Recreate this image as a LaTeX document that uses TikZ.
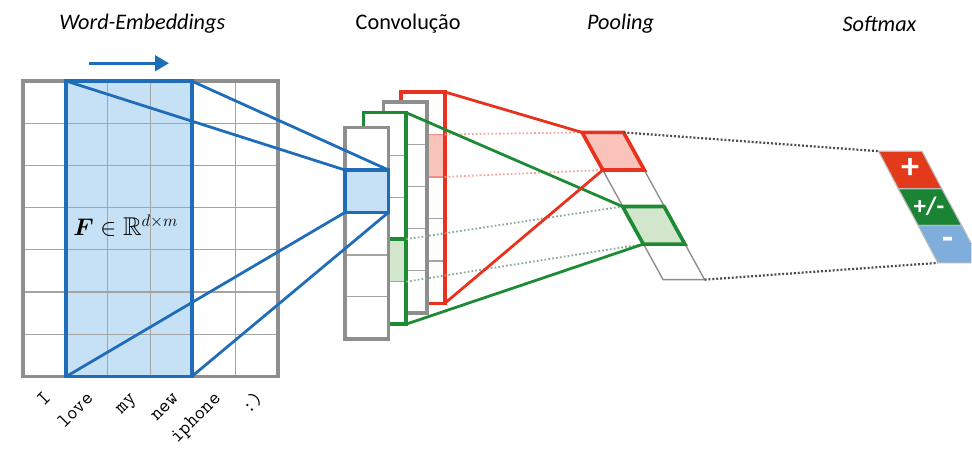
\documentclass[tikz,border=0pt]{standalone}
\usepackage{amssymb}
\usepackage{fontspec}
\newfontfamily\calibri{Carlito}
\usetikzlibrary{arrows.meta,decorations.text}

\definecolor{embblue}{HTML}{1F6DB8}
\definecolor{embfill}{HTML}{C6E0F5}
\definecolor{gridgray}{HTML}{8E8E8E}
\definecolor{mapred}{HTML}{E8321E}
\definecolor{redfill}{HTML}{F9C3BA}
\definecolor{mapgreen}{HTML}{1D8A34}
\definecolor{greenfill}{HTML}{D2E6CB}
\definecolor{smred}{HTML}{E43A1C}
\definecolor{smgreen}{HTML}{1A8434}
\definecolor{smblue}{HTML}{7FAEDC}

\newcommand\wordfont{\fontsize{14.5}{16}\selectfont\ttfamily}

\tikzset{
    title/.style={font=\calibri\fontsize{16}{19}\selectfont\itshape},
    word/.style={decorate, decoration={text along path, text align=right, text={|\wordfont|#1}}},
    frame/.style={line width=2.6pt},
    cell/.style={gridgray!80, line width=0.9pt},
    link/.style={line width=2pt},
    faint/.style={line width=1.3pt, dash pattern=on 1.2pt off 1.6pt},
    dots/.style={black!70, line width=1.6pt, dash pattern=on 1.4pt off 1.4pt},
    sign/.style={text=white}
}

\begin{document}
\begin{tikzpicture}
    \path (0,0) rectangle (24.3,-11.425);

    % the sentence, one word per column, written up along a diagonal
    \path[word={I}] (-0.275,-11.4) -- (1.025,-10.1);
    \path[word={love}] (0.8,-11.4) -- (2.1,-10.1);
    \path[word={my}] (1.875,-11.4) -- (3.175,-10.1);
    \path[word={new}] (2.95,-11.4) -- (4.25,-10.1);
    \path[word={iphone}] (4.025,-11.4) -- (5.325,-10.1);
    \path[word={:)}] (5.1,-11.4) -- (6.4,-10.1);

  \begin{scope}[x=0.025cm, y=-0.025cm]
    \node[title] (tEmb) at (133,24) {Word-Embeddings};
    \node[font=\calibri\fontsize{16}{19}\selectfont] (tConv) at (402,24) {Convolução};
    \node[title] (tPool) at (617,24) {Pooling};
    \node[title] (tSoft) at (879,24) {Softmax};

    % embedding matrix with the filter window
    \fill[embfill] (56,82) rectangle (183,381);
    \foreach \i in {1,...,5} \draw[cell] (12+43*\i,82) -- (12+43*\i,381);
    \foreach \i in {1,...,6} \draw[cell] (12,82+42.71*\i) -- (270,82+42.71*\i);
    \draw[gridgray, frame] (12,82) rectangle (270,381);
    \draw[embblue, frame] (56,82) rectangle (183,381);
    \node[font=\fontsize{18.5}{21}\selectfont, anchor=base west, inner sep=0pt] (fLabel) at (63,238) {$\mbox{\boldmath$F$} \in \mathbb{R}^{d\times m}$};

    \coordinate (aL) at (79,64);
    \coordinate (aR) at (160,64);
    \draw[embblue, line width=2.4pt, -{Triangle[length=10pt, width=11pt]}] (aL) -- (aR);

    % feature maps, back to front
    \fill[white] (395,93) rectangle (439,307);
    \fill[redfill] (395,136) rectangle (439,179);
    \foreach \y in {221,264} \draw[cell] (395,\y) -- (439,\y);
    \draw[mapred!55, line width=1.2pt] (395,136) -- (439,136) (395,179) -- (439,179);
    \draw[mapred, frame] (395,93) rectangle (439,307);

    \fill[white] (377,103) rectangle (421,317);
    \foreach \y in {146,189,231,274} \draw[cell] (377,\y) -- (421,\y);
    \draw[gridgray, frame] (377,103) rectangle (421,317);

    \fill[white] (357,114) rectangle (400,328);
    \fill[greenfill] (357,242) rectangle (400,285);
    \foreach \y in {157,200,285} \draw[cell] (357,\y) -- (400,\y);
    \draw[mapgreen, frame] (357,242) -- (400,242);
    \draw[mapgreen, frame] (357,114) rectangle (400,328);

    \fill[white] (338,129) rectangle (382,343);
    \foreach \y in {258,300} \draw[cell] (338,\y) -- (382,\y);
    \draw[gridgray, frame] (338,129) rectangle (382,343);
    \draw[embblue, frame, fill=embfill] (338,172) rectangle (382,215);

    % corners used by the connectors
    \coordinate (fTL) at (56,82);
    \coordinate (fTR) at (183,82);
    \coordinate (fBL) at (56,381);
    \coordinate (fBR) at (183,381);
    \coordinate (cTL) at (338,172);
    \coordinate (cTR) at (382,172);
    \coordinate (cBL) at (338,215);
    \coordinate (cBR) at (382,215);
    \coordinate (rTop) at (439,93);
    \coordinate (rBot) at (439,307);
    \coordinate (rHi) at (439,136);
    \coordinate (rLo) at (439,179);
    \coordinate (gTop) at (400,114);
    \coordinate (gBot) at (400,328);
    \coordinate (gHi) at (400,242);
    \coordinate (gLo) at (400,285);

    \coordinate (p0L) at (578,134);
    \coordinate (p0R) at (620,134);
    \coordinate (p1L) at (599,172);
    \coordinate (p1R) at (641,172);
    \coordinate (p2L) at (619,209);
    \coordinate (p2R) at (661,209);
    \coordinate (p3L) at (640,247);
    \coordinate (p3R) at (682,247);
    \coordinate (p4L) at (660,283);
    \coordinate (p4R) at (702,283);

    \coordinate (s0L) at (878,153);
    \coordinate (s0R) at (922,153);
    \coordinate (s1L) at (898,191);
    \coordinate (s1R) at (942,191);
    \coordinate (s2L) at (918,228);
    \coordinate (s2R) at (962,228);
    \coordinate (sCut) at (972,247);
    \coordinate (sEnd) at (972,266);
    \coordinate (s3L) at (938,266);

    % filter window -> convolution
    \draw[embblue, link] (fTL) -- (cTL);
    \draw[embblue, link] (fTR) -- (cTR);
    \draw[embblue, link] (fBL) -- (cBL);
    \draw[embblue, link] (fBR) -- (cBR);

    % convolution -> pooling
    \draw[mapred!45, faint] (rHi) -- (p0L);
    \draw[mapred!45, faint] (rLo) -- (p1L);
    \draw[mapgreen!40!gray!70, faint] (gHi) -- (p2L);
    \draw[mapgreen!40!gray!70, faint] (gLo) -- (p3L);
    \draw[mapgreen, link] (gTop) -- (p2L);
    \draw[mapgreen, link] (gBot) -- (p3L);
    \draw[mapred, link] (rTop) -- (p0L);
    \draw[mapred, link] (rBot) -- (p1L);

    \draw[gridgray, line width=1pt] (p0L) -- (p4L) -- (p4R) -- (p0R);
    \draw[mapred, frame, fill=redfill] (p0L) -- (p0R) -- (p1R) -- (p1L) -- cycle;
    \draw[mapgreen, frame, fill=greenfill] (p2L) -- (p2R) -- (p3R) -- (p3L) -- cycle;

    % pooling -> softmax
    \draw[dots] (p0R) -- (s0L);
    \draw[dots] (p4R) -- (s3L);

    \draw[gridgray!60, line width=0.8pt, fill=smred] (s0L) -- (s0R) -- (s1R) -- (s1L) -- cycle;
    \draw[gridgray!60, line width=0.8pt, fill=smgreen] (s1L) -- (s1R) -- (s2R) -- (s2L) -- cycle;
    \fill[smblue] (s2L) -- (s2R) -- (sCut) -- (sEnd) -- (s3L) -- cycle;
    \draw[gridgray!60, line width=0.8pt] (sCut) -- (s2R) -- (s2L) -- (s3L) -- (sEnd);
    \node[sign, font=\calibri\fontsize{26}{28}\selectfont\bfseries] (sPos) at (910,171) {+};
    \node[sign, font=\calibri\fontsize{18}{20}\selectfont\bfseries] (sNeu) at (929,209) {+/-};
    \node[sign, font=\calibri\fontsize{26}{28}\selectfont\bfseries] (sNeg) at (948,246) {-};
  \end{scope}
\end{tikzpicture}
\end{document}
